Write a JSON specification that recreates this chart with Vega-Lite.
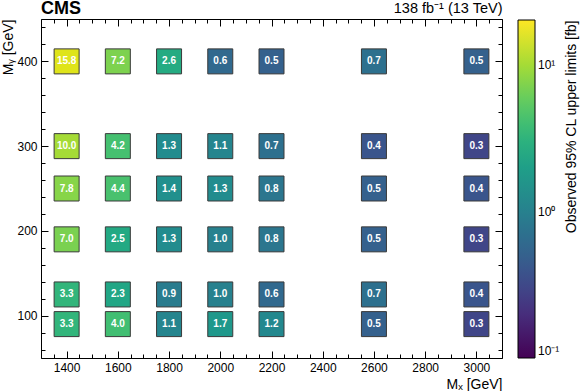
{
  "$schema": "https://vega.github.io/schema/vega-lite/v6.json",
  "width": 461,
  "height": 339,
  "autosize": {"type": "none"},
  "padding": {"left": 41, "top": 19, "right": 78, "bottom": 33},
  "background": "white",
  "config": {
    "font": "Liberation Sans",
    "view": {"stroke": null},
    "axis": {
      "grid": false,
      "domain": true,
      "domainColor": "black",
      "domainWidth": 1,
      "tickColor": "black",
      "tickWidth": 1,
      "labelColor": "black",
      "titleColor": "black",
      "labelFont": "Liberation Sans",
      "titleFont": "Liberation Sans",
      "labelFontSize": 12,
      "titleFontSize": 14,
      "titleFontWeight": "normal",
      "labelOverlap": false,
      "labelBound": false,
      "labelFlush": false
    },
    "legend": {
      "labelFont": "Liberation Sans",
      "titleFont": "Liberation Sans"
    }
  },
  "title": {
    "text": "CMS",
    "anchor": "start",
    "frame": "group",
    "fontSize": 18,
    "fontWeight": "bold",
    "font": "Liberation Sans",
    "color": "black",
    "baseline": "bottom",
    "offset": 0,
    "dy": 35.5
  },
  "data": {
    "values": [
      {"mx": 1400, "my": 400, "val": 15.8},
      {"mx": 1600, "my": 400, "val": 7.2},
      {"mx": 1800, "my": 400, "val": 2.6},
      {"mx": 2000, "my": 400, "val": 0.6},
      {"mx": 2200, "my": 400, "val": 0.5},
      {"mx": 2600, "my": 400, "val": 0.7},
      {"mx": 3000, "my": 400, "val": 0.5},
      {"mx": 1400, "my": 300, "val": 10.0},
      {"mx": 1600, "my": 300, "val": 4.2},
      {"mx": 1800, "my": 300, "val": 1.3},
      {"mx": 2000, "my": 300, "val": 1.1},
      {"mx": 2200, "my": 300, "val": 0.7},
      {"mx": 2600, "my": 300, "val": 0.4},
      {"mx": 3000, "my": 300, "val": 0.3},
      {"mx": 1400, "my": 250, "val": 7.8},
      {"mx": 1600, "my": 250, "val": 4.4},
      {"mx": 1800, "my": 250, "val": 1.4},
      {"mx": 2000, "my": 250, "val": 1.3},
      {"mx": 2200, "my": 250, "val": 0.8},
      {"mx": 2600, "my": 250, "val": 0.5},
      {"mx": 3000, "my": 250, "val": 0.4},
      {"mx": 1400, "my": 190, "val": 7.0},
      {"mx": 1600, "my": 190, "val": 2.5},
      {"mx": 1800, "my": 190, "val": 1.3},
      {"mx": 2000, "my": 190, "val": 1.0},
      {"mx": 2200, "my": 190, "val": 0.8},
      {"mx": 2600, "my": 190, "val": 0.5},
      {"mx": 3000, "my": 190, "val": 0.3},
      {"mx": 1400, "my": 125, "val": 3.3},
      {"mx": 1600, "my": 125, "val": 2.3},
      {"mx": 1800, "my": 125, "val": 0.9},
      {"mx": 2000, "my": 125, "val": 1.0},
      {"mx": 2200, "my": 125, "val": 0.6},
      {"mx": 2600, "my": 125, "val": 0.7},
      {"mx": 3000, "my": 125, "val": 0.4},
      {"mx": 1400, "my": 90, "val": 3.3},
      {"mx": 1600, "my": 90, "val": 4.0},
      {"mx": 1800, "my": 90, "val": 1.1},
      {"mx": 2000, "my": 90, "val": 1.7},
      {"mx": 2200, "my": 90, "val": 1.2},
      {"mx": 2600, "my": 90, "val": 0.5},
      {"mx": 3000, "my": 90, "val": 0.3}
    ]
  },
  "layer": [
    {
      "mark": {"type": "square", "size": 625, "filled": true, "opacity": 1, "stroke": "#3a3a3a", "strokeWidth": 1},
      "encoding": {
        "x": {
          "field": "mx", "type": "quantitative",
          "scale": {"domain": [1300, 3100], "nice": false, "zero": false},
          "axis": {
            "orient": "bottom",
            "values": [1300,1350,1400,1450,1500,1550,1600,1650,1700,1750,1800,1850,1900,1950,2000,2050,2100,2150,2200,2250,2300,2350,2400,2450,2500,2550,2600,2650,2700,2750,2800,2850,2900,2950,3000,3050,3100],
            "labelExpr": "datum.value % 200 === 0 ? datum.label : ''",
            "format": "d",
            "tickSize": {"condition": {"test": "datum.value % 200 === 0", "value": -7}, "value": -4},
            "labelPadding": 11,
            "title": "Mₓ [GeV]",
            "titleAnchor": "end",
            "titlePadding": 1
          }
        },
        "y": {
          "field": "my", "type": "quantitative",
          "scale": {"domain": [50, 450], "nice": false, "zero": false},
          "axis": {
            "orient": "left",
            "values": [60,80,100,120,140,160,180,200,220,240,260,280,300,320,340,360,380,400,420,440],
            "labelExpr": "datum.value % 100 === 0 ? datum.label : ''",
            "format": "d",
            "tickSize": {"condition": {"test": "datum.value % 100 === 0", "value": -7}, "value": -4},
            "labelPadding": 11,
            "title": "Mᵧ [GeV]",
            "titleAnchor": "end",
            "titlePadding": 1
          }
        },
        "color": {
          "field": "val", "type": "quantitative",
          "scale": {"type": "log", "scheme": "viridis", "domain": [0.1, 20.3]},
          "legend": {
            "direction": "vertical",
            "orient": "none",
            "legendX": 477,
            "legendY": 1,
            "padding": 0,
            "gradientLength": 338,
            "gradientThickness": 17,
            "gradientStrokeColor": "black",
            "gradientStrokeWidth": 1,
            "values": [0.1, 1, 10],
            "labelExpr": "datum.value < 0.5 ? '10⁻¹' : datum.value < 5 ? '10⁰' : '10¹'",
            "labelFontSize": 12,
            "labelColor": "black",
            "labelOffset": 3,
            "labelOverlap": false,
            "title": null
          }
        }
      }
    },
    {
      "mark": {"type": "text", "color": "white", "fontWeight": "bold", "fontSize": 10, "font": "Liberation Sans"},
      "encoding": {
        "x": {
          "field": "mx", "type": "quantitative",
          "axis": {
            "orient": "top",
            "values": [1300,1350,1400,1450,1500,1550,1600,1650,1700,1750,1800,1850,1900,1950,2000,2050,2100,2150,2200,2250,2300,2350,2400,2450,2500,2550,2600,2650,2700,2750,2800,2850,2900,2950,3000,3050,3100],
            "labels": false,
            "tickSize": {"condition": {"test": "datum.value % 200 === 0", "value": -7}, "value": -4},
            "title": "138 fb⁻¹ (13 TeV)",
            "titleAnchor": "end",
            "titleFontSize": 14.5,
            "titlePadding": 3
          }
        },
        "y": {
          "field": "my", "type": "quantitative",
          "axis": {
            "orient": "right",
            "values": [60,80,100,120,140,160,180,200,220,240,260,280,300,320,340,360,380,400,420,440],
            "labels": false,
            "tickSize": {"condition": {"test": "datum.value % 100 === 0", "value": -7}, "value": -4},
            "title": "Observed 95% CL upper limits [fb]",
            "titleAngle": 270,
            "titleAlign": "right",
            "titleBaseline": "middle",
            "titleX": 69,
            "titleY": 1,
            "titleFontSize": 14,
            "titleLimit": 400
          }
        },
        "text": {"field": "val", "type": "quantitative", "format": ".1f"}
      }
    }
  ],
  "resolve": {"axis": {"x": "independent", "y": "independent"}}
}
